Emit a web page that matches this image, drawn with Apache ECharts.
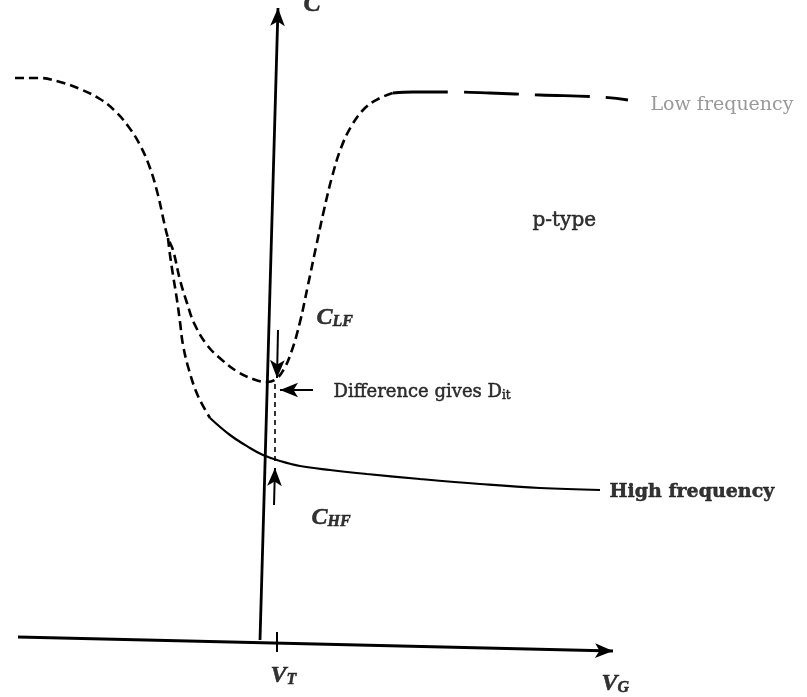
<!DOCTYPE html>
<html>
<head>
<meta charset="utf-8">
<script src="https://cdn.jsdelivr.net/npm/echarts@6/dist/echarts.min.js"></script>
<style>
  html, body { margin: 0; padding: 0; background: #fff; }
  #chart { width: 807px; height: 697px; }
</style>
</head>
<body>
<div id="chart"></div>
<script>
// C–V curves of a p-type MOS capacitor (gate voltage V_G vs capacitance C, arbitrary units)

// Low-frequency curve: accumulation shoulder, dip near V_T, recovery to C_ox
const lfCurveV = [-24.5, -22.0, -20.0, -18.0, -16.0, -14.5, -13.2, -12.0, -11.0, -10.2, -9.6, -9.2,
                  -8.7, -8.0, -7.3, -6.6, -5.3, -3.8, -2.2, -0.7, 0.7, 1.6, 2.4, 3.2, 4.0, 4.8, 5.6,
                  6.4, 7.2, 8.1, 9.2, 10.5, 11.8, 13.3];
const lfCurveC = [56.3, 56.3, 55.9, 55.2, 54.2, 53.0, 51.5, 49.6, 47.3, 44.6, 41.9, 40.3,
                  39.1, 36.1, 33.8, 31.8, 29.6, 28.1, 26.9, 26.2, 25.9, 26.2, 27.2, 29.1, 31.9, 35.6, 39.4,
                  43.1, 46.4, 49.3, 51.6, 53.3, 54.2, 54.8];
// Low-frequency plateau in inversion
const lfPlateauV = [13.3, 15.3, 19.0, 23.0, 28.0, 34.0, 36.8];
const lfPlateauC = [54.8, 54.9, 54.9, 54.8, 54.6, 54.4, 54.1];

// High-frequency curve: splits off in depletion and stays low in inversion
const hfBranchV = [-9.2, -9.0, -8.7, -8.3, -8.0, -7.7, -7.1, -6.2, -5.0];
const hfBranchC = [40.3, 38.6, 36.6, 34.1, 31.9, 29.6, 27.1, 24.5, 22.3];
const hfTailV = [-5.0, -3.0, -1.0, 0.3, 2.0, 4.0, 7.0, 10.7, 16.0, 22.0, 28.0, 34.0];
const hfTailC = [22.3, 20.6, 19.3, 18.6, 18.0, 17.5, 17.1, 16.7, 16.2, 15.7, 15.3, 15.1];

// Axes drawn as arrows, [V, C] end points
const axisV = [[-24.2, 0.4], [35.3, -1.0]];
const axisC = [[0.0, 0.1], [1.8, 63.3]];

// Threshold voltage marker and the C_LF / C_HF pointers
const vtTick = [[1.7, 0.9], [1.7, -1.1]];
const vtGuide = [[1.5, 25.7], [1.5, 17.9]];
const lfPointer = [[1.8, 31.1], [1.7, 26.3]];
const hfPointer = [[1.4, 13.6], [1.5, 17.3]];
const ditPointer = [[5.3, 25.1], [2.0, 25.1]];

// Text annotations: [V, C, key]
const notes = [
  [39.1, 53.7, 'low'],
  [35.0, 15.0, 'high'],
  [27.3, 42.1, 'ptype'],
  [5.7, 32.4, 'clf'],
  [5.2, 12.4, 'chf'],
  [7.4, 25.0, 'dit'],
  [1.1, -3.4, 'vt'],
  [34.2, -4.2, 'vg'],
  [4.4, 63.6, 'c']
];

const zip = (xs, ys) => xs.map((x, i) => [x, ys[i]]);
const ink = '#000';
const faded = '#808080';
const serif = 'DejaVu Serif';
const ital = 'Liberation Serif';

const noteText = {
  low: '{faint|Low frequency}',
  high: '{bold|High frequency}',
  ptype: '{tag|p-type}',
  clf: '{it|C}{sub|LF}',
  chf: '{it|C}{sub|HF}',
  dit: '{body|Difference gives D}{bsub|it}',
  vt: '{it|V}{sub|T}',
  vg: '{it|V}{sub|G}',
  c: '{big|C}'
};

// Printed ink is slightly heavy, so each text run gets a hairline outline in the same colour
const heavy = { color: ink, textBorderColor: ink, textBorderWidth: 0.5 };
const rich = {
  body: Object.assign({ fontFamily: serif, fontSize: 18, verticalAlign: 'bottom', lineHeight: 22 }, heavy),
  tag: Object.assign({ fontFamily: serif, fontSize: 20, verticalAlign: 'bottom', lineHeight: 22 }, heavy),
  faint: { fontFamily: serif, fontSize: 19, color: faded, verticalAlign: 'bottom', lineHeight: 22 },
  bold: Object.assign({ fontFamily: serif, fontSize: 19, fontWeight: 'bold', verticalAlign: 'bottom', lineHeight: 22 }, heavy),
  bsub: Object.assign({ fontFamily: serif, fontSize: 12, verticalAlign: 'bottom', lineHeight: 16 }, heavy),
  it: Object.assign({ fontFamily: ital, fontSize: 24, fontStyle: 'italic', fontWeight: 'bold', verticalAlign: 'bottom', lineHeight: 26 }, heavy),
  sub: Object.assign({ fontFamily: ital, fontSize: 16, fontStyle: 'italic', fontWeight: 'bold', verticalAlign: 'bottom', lineHeight: 20 }, heavy),
  big: Object.assign({ fontFamily: ital, fontSize: 26, fontStyle: 'italic', fontWeight: 'bold', lineHeight: 26 }, heavy)
};

function seg(points, style, head) {
  return [
    { coord: points[0], symbol: 'none' },
    { coord: points[1], symbol: head ? 'arrow' : 'none', lineStyle: style }
  ];
}

const thin = { color: ink, width: 2, type: 'solid' };
const dashStyle = { color: ink, width: 2.6, type: [9, 5] };

const chart = echarts.init(document.getElementById('chart'), null, { renderer: 'canvas' });
chart.setOption({
  animation: false,
  backgroundColor: '#fff',
  grid: { left: 0, right: 0, top: 0, bottom: 0 },
  xAxis: { type: 'value', min: -26, max: 54.7, show: false },
  yAxis: { type: 'value', min: -5.6, max: 64.1, show: false },
  series: [
    {
      name: 'Low frequency',
      type: 'line',
      data: zip(lfCurveV, lfCurveC),
      smooth: 0.4,
      showSymbol: false,
      lineStyle: dashStyle
    },
    {
      name: 'Low frequency plateau',
      type: 'line',
      data: zip(lfPlateauV, lfPlateauC),
      smooth: 0.4,
      showSymbol: false,
      lineStyle: { color: ink, width: 2.8, type: [55, 16] }
    },
    {
      name: 'High frequency branch',
      type: 'line',
      data: zip(hfBranchV, hfBranchC),
      smooth: 0.4,
      showSymbol: false,
      lineStyle: dashStyle
    },
    {
      name: 'High frequency',
      type: 'line',
      data: zip(hfTailV, hfTailC),
      smooth: 0.4,
      showSymbol: false,
      lineStyle: { color: ink, width: 2.2 },
      markLine: {
        silent: true,
        symbolSize: [11, 18],
        label: { show: false },
        lineStyle: thin,
        emphasis: { disabled: true },
        data: [
          seg(axisV, { color: ink, width: 2.8 }, true),
          seg(axisC, { color: ink, width: 2.8 }, true),
          seg(vtTick, { color: ink, width: 2 }, false),
          seg(vtGuide, { color: ink, width: 1.6, type: [5, 4] }, false),
          seg(lfPointer, thin, true),
          seg(hfPointer, thin, true),
          seg(ditPointer, thin, true)
        ]
      }
    },
    {
      name: 'notes',
      type: 'scatter',
      symbolSize: 1,
      clip: false,
      itemStyle: { color: 'rgba(0,0,0,0)' },
      silent: true,
      data: notes.map(n => ({ value: [n[0], n[1]], key: n[2] })),
      label: {
        show: true,
        position: [0, 0],
        align: 'left',
        verticalAlign: 'middle',
        color: ink,
        formatter: p => noteText[p.data.key],
        rich: rich
      }
    }
  ]
});
</script>
</body>
</html>
